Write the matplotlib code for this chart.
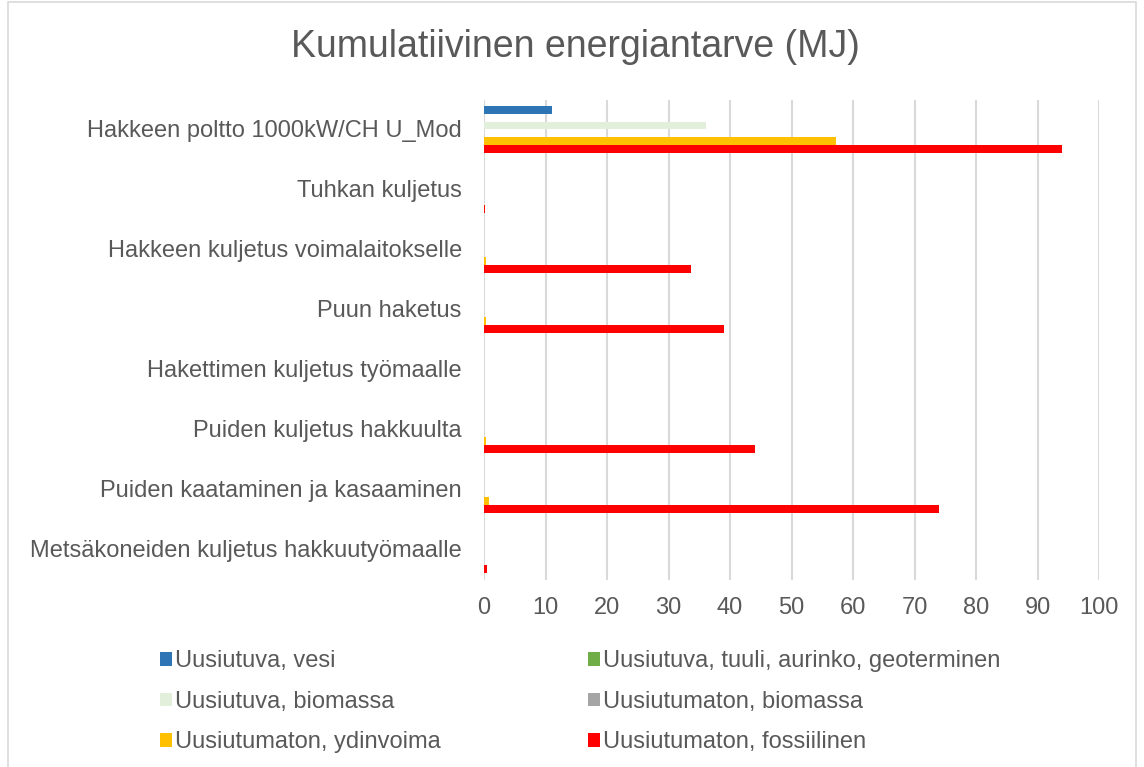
import matplotlib
matplotlib.use("Agg")
import matplotlib.pyplot as plt
from matplotlib.patches import Patch, Rectangle
import numpy as np

plt.rcParams['font.family'] = ['Liberation Sans', 'DejaVu Sans']

# Categories from bottom to top (as drawn)
categories = [
    "Metsäkoneiden kuljetus hakkuutyömaalle",
    "Puiden kaataminen ja kasaaminen",
    "Puiden kuljetus hakkuulta",
    "Hakettimen kuljetus työmaalle",
    "Puun haketus",
    "Hakkeen kuljetus voimalaitokselle",
    "Tuhkan kuljetus",
    "Hakkeen poltto 1000kW/CH U_Mod",
]

series_names = [
    "Uusiutuva, vesi",
    "Uusiutuva, tuuli, aurinko, geoterminen",
    "Uusiutuva, biomassa",
    "Uusiutumaton, biomassa",
    "Uusiutumaton, ydinvoima",
    "Uusiutumaton, fossiilinen",
]

vesi        = [0.0, 0.0, 0.0, 0.0, 0.0, 0.0, 0.0, 11.1]
tuuli       = [0.0, 0.0, 0.0, 0.0, 0.0, 0.0, 0.0, 0.0]
biomassa_u  = [0.0, 0.0, 0.0, 0.0, 0.0, 0.0, 0.0, 36.1]
biomassa_nu = [0.0, 0.0, 0.0, 0.0, 0.0, 0.0, 0.0, 0.0]
ydinvoima   = [0.0, 0.8, 0.4, 0.0, 0.4, 0.3, 0.0, 57.3]
fossiilinen = [0.45, 74.0, 44.1, 0.0, 39.0, 33.6, 0.2, 94.0]

series_values = [vesi, tuuli, biomassa_u, biomassa_nu, ydinvoima, fossiilinen]
colors = ["#2E75B6", "#70AD47", "#E2EFDA", "#A5A5A5", "#FFC000", "#FF0000"]

xticks = [0, 10, 20, 30, 40, 50, 60, 70, 80, 90, 100]

text_color = "#595959"
grid_color = "#D9D9D9"

fig = plt.figure(figsize=(11.44, 7.67), dpi=100)
ax = fig.add_axes([484/1144, 187/767, 615/1144, 480/767])

y = np.arange(len(categories))
h = 0.13
for j, (vals, col) in enumerate(zip(series_values, colors)):
    ax.barh(y + (2.5 - j) * h + 0.01, vals, height=h * 0.96, color=col,
            label=series_names[j], zorder=3)

ax.set_xlim(0, 100)
ax.set_ylim(-0.5, len(categories) - 0.5)
ax.set_xticks(xticks)
ax.set_yticks(y + 0.03)
ax.set_yticklabels(categories)
ax.tick_params(axis='both', length=0, colors=text_color, labelsize=17)
ax.tick_params(axis='y', pad=16)
ax.tick_params(axis='x', pad=12)
for s in ax.spines.values():
    s.set_visible(False)
ax.grid(axis='x', color=grid_color, linewidth=1.5, zorder=0)
ax.set_axisbelow(True)

fig.text(575/1144, 1 - 47/767, "Kumulatiivinen energiantarve (MJ)",
         ha='center', va='center', fontsize=27, color=text_color)

# legend (column-first order)
order = [0, 2, 4, 1, 3, 5]
handles = [Patch(facecolor=colors[i], edgecolor='none') for i in order]
labels = [series_names[i] for i in order]
leg = fig.legend(handles, labels, ncol=2, loc='upper left',
                 bbox_to_anchor=(151/1144, 1 - 641/767), frameon=False,
                 fontsize=17, labelcolor=text_color, handlelength=0.5,
                 handleheight=0.5, handletextpad=0.12, labelspacing=0.78,
                 columnspacing=6.25, borderaxespad=0)

# chart border
fig.patches.append(Rectangle((8/1144, -0.01), 1128/1144, 1.01 - 2/767,
                             transform=fig.transFigure, fill=False,
                             edgecolor=grid_color, linewidth=1.2))

fig.savefig("out.png", dpi=100)
